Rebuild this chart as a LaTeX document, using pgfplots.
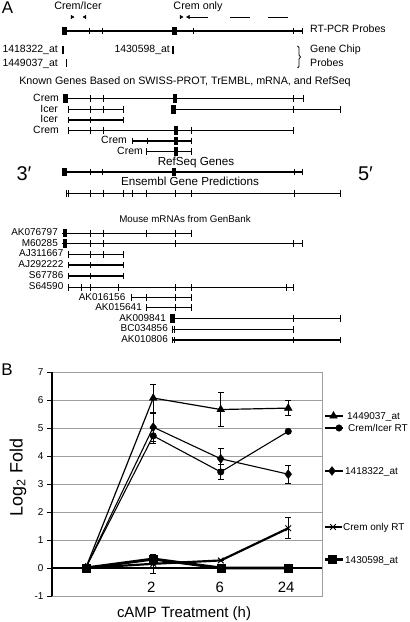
\documentclass[border=0pt]{standalone}
\usepackage{fontspec}
\setmainfont{Liberation Sans}
\usepackage{pgfplots}
\pgfplotsset{compat=1.18}
\pgfplotsset{
  gl/.style={black, line width=1.1pt, mark=none},
  gt/.style={black, only marks, mark=|, mark size=3.5pt, mark options={line width=1pt}},
  gb/.style={black, only marks, mark=|, mark size=4.2pt, mark options={line width=5pt}},
  pl/.style={black, line width=0.8pt, mark=none},
  eb/.style={error bars/.cd, y dir=both, y explicit, error bar style={line width=0.9pt},
    error mark options={rotate=90, mark size=3pt, line width=0.9pt}},
}
\tikzset{
  lab/.style={font=\fontsize{10.5}{12}\selectfont, inner sep=0pt, anchor=mid east},
  mlab/.style={font=\fontsize{10}{12}\selectfont, inner sep=0pt, anchor=mid east},
  ttl/.style={font=\fontsize{10.8}{12}\selectfont, inner sep=0pt, anchor=mid},
  rlab/.style={font=\fontsize{10.6}{12}\selectfont, inner sep=0pt, anchor=mid west},
  leg/.style={font=\fontsize{10}{12}\selectfont, inner sep=0pt, anchor=mid west},
}
\begin{document}
\begin{tikzpicture}[x=1bp,y=1bp]
% ---------------- Panel B chart ----------------
\begin{axis}[at={(52,26)}, anchor=south west, width=270bp, height=224bp, scale only axis,
  xmin=-0.5, xmax=3.5, ymin=-1, ymax=7,
  xtick=\empty, ytick={-1,0,1,2,3,4,5,6,7}, yticklabels={-1,0,1,2,3,4,5,6,7},
  ytick pos=left, tick align=outside, major tick length=5bp,
  yticklabel style={font=\fontsize{10}{12}\selectfont},
  y tick style={black, line width=0.8pt},
  ymajorgrids, grid style={draw=black!38, line width=0.8pt},
  axis line style={draw=black!38, line width=0.8pt},
  clip=false]
\coordinate (Bll) at (rel axis cs:0,0);
\draw[black, line width=1.1pt] (axis cs:-0.5,-1) -- (axis cs:-0.5,7);
\draw[black, line width=1.3pt] (axis cs:-0.5,0) -- (axis cs:3.5,0);
% 1449037_at
\addplot[black, line width=1.2pt, mark=triangle*, mark size=4.5pt, mark options={line width=0.4pt}, eb]
  coordinates {(0,0) +- (0,0) (1,6.07) +- (0,0.5) (2,5.66) +- (0,0.6) (3,5.71) +- (0,0.27)};
% 1418322_at
\addplot[black, line width=1.1pt, mark=diamond*, mark size=4.5pt, mark options={line width=0.4pt}, eb]
  coordinates {(0,0) +- (0,0) (1,5.03) +- (0,0.5) (2,3.9) +- (0,0.38) (3,3.35) +- (0,0.33)};
% Crem/Icer RT
\addplot[black, line width=1.1pt, mark=*, mark size=3.3pt, mark options={line width=0.4pt}, eb]
  coordinates {(0,0) +- (0,0) (1,4.72) +- (0,0.27) (2,3.43) +- (0,0.27) (3,4.88) +- (0,0)};
% Crem only RT
\addplot[black, line width=2.2pt, mark=x, mark size=4pt, mark options={line width=1pt}, eb]
  coordinates {(0,0) +- (0,0) (1,0.15) +- (0,0.35) (2,0.27) +- (0,0) (3,1.42) +- (0,0.38)};
% 1430598_at
\addplot[black, line width=3pt, mark=square*, mark size=4pt, mark options={line width=0.4pt}]
  coordinates {(0,0) (1,0.32) (2,0) (3,0)};
\end{axis}
% ---------------- Panel A and annotations (pixel coordinates, y from top) ----------------
\begin{axis}[at={(Bll)}, anchor=south west, xshift=-52bp, yshift=-26bp,
  width=409bp, height=622bp, scale only axis,
  xmin=0, xmax=409, ymin=0, ymax=622, y dir=reverse, hide axis, clip=false]
\node[font=\fontsize{17}{18}\selectfont, inner sep=0pt, anchor=mid] at (axis cs:7.5,11) {A};
\node[ttl] at (axis cs:78,7) {Crem/Icer};
\node[ttl] at (axis cs:198,7) {Crem only};
% primers
\addplot[black, only marks, mark=triangle*, mark size=2pt, mark options={rotate=-90}] coordinates {(72,17)(181,17)};
\addplot[black, only marks, mark=triangle*, mark size=2pt, mark options={rotate=90}] coordinates {(85,17)(188.5,17)};
\addplot[pl] coordinates {(189,17)(208,17)};
\addplot[pl] coordinates {(230,17)(250,17)};
\addplot[pl] coordinates {(268,17)(288,17)};
% RT-PCR probes row
\addplot[gl] coordinates {(62,31)(302,31)};
\addplot[gt] coordinates {(89,31)(102,31)(193,31)(293,31)(302,31)};
\addplot[gb] coordinates {(64.5,31)(174.5,31)};
\node[rlab] at (axis cs:310,30) {RT-PCR Probes};
% gene chip probes
\node[lab] at (axis cs:58,50) {1418322\_at};
\node[lab] at (axis cs:170,50) {1430598\_at};
\node[lab] at (axis cs:58,63.5) {1449037\_at};
\addplot[black, only marks, mark=|, mark size=4.2pt, mark options={line width=2.4pt}] coordinates {(62.8,49.8)(173,49.8)};
\addplot[black, only marks, mark=|, mark size=4.2pt, mark options={line width=1.3pt}] coordinates {(66.3,63.2)};
\addplot[black, line width=0.8pt] coordinates {(297.5,46)(299,47.5)(299,55)(300.5,57)(299,59)(299,66.5)(297.5,68)};
\node[rlab] at (axis cs:310,50) {Gene Chip};
\node[rlab] at (axis cs:310,63.5) {Probes};
% known genes
\node[ttl] at (axis cs:185,82) {Known Genes Based on SWISS-PROT, TrEMBL, mRNA, and RefSeq};
\node[lab] at (axis cs:59,98.5) {Crem};
\addplot[gl] coordinates {(65,98.5)(303,98.5)};
\addplot[gt] coordinates {(90,98.5)(103,98.5)(293,98.5)(303,98.5)};
\addplot[gb] coordinates {(65.5,98.5)(175,98.5)};
\node[lab] at (axis cs:58,109.5) {Icer};
\addplot[gl] coordinates {(68,109.5)(123,109.5)};
\addplot[gl] coordinates {(171,109.5)(340,109.5)};
\addplot[gt] coordinates {(68,109.5)(90,109.5)(103,109.5)(123,109.5)(293,109.5)(340,109.5)};
\addplot[gb] coordinates {(173.5,109.5)};
\node[lab] at (axis cs:58,120) {Icer};
\addplot[gl] coordinates {(68,120)(123,120)};
\addplot[gt] coordinates {(68,120)(90,120)(123,120)};
\node[lab] at (axis cs:59,130.5) {Crem};
\addplot[gl] coordinates {(68,130.5)(293,130.5)};
\addplot[gt] coordinates {(68,130.5)(90,130.5)(103,130.5)(191,130.5)(293,130.5)};
\addplot[gb] coordinates {(176,130.5)};
\node[lab] at (axis cs:127,141) {Crem};
\addplot[gl] coordinates {(132,141)(191,141)};
\addplot[gt] coordinates {(132,141)(147,141)(191,141)};
\addplot[gb] coordinates {(176,141)};
\node[lab] at (axis cs:143,151.5) {Crem};
\addplot[gl] coordinates {(146,151.5)(191,151.5)};
\addplot[gt] coordinates {(146,151.5)(191,151.5)};
\addplot[gb] coordinates {(176,151.5)};
% RefSeq
\node[font=\fontsize{11.7}{13}\selectfont, inner sep=0pt, anchor=mid] at (axis cs:196,162.7) {RefSeq Genes};
\addplot[gl] coordinates {(62,172)(302,172)};
\addplot[gt] coordinates {(90,172)(102,172)(294,172)(302,172)};
\addplot[gb] coordinates {(64.5,172)(174,172)};
\node[font=\fontsize{20}{22}\selectfont, inner sep=0pt, anchor=mid] at (axis cs:24,177.5) {3′};
\node[font=\fontsize{20}{22}\selectfont, inner sep=0pt, anchor=mid] at (axis cs:365.5,177.5) {5′};
% Ensembl
\node[font=\fontsize{11.7}{13}\selectfont, inner sep=0pt, anchor=mid] at (axis cs:190,183.2) {Ensembl Gene Predictions};
\addplot[gl] coordinates {(66,193.3)(340,193.3)};
\addplot[gt] coordinates {(66,193.3)(68.5,193.3)(90,193.3)(103,193.3)(123,193.3)(132,193.3)(146,193.3)(175,193.3)(191,193.3)(294,193.3)(340,193.3)};
% Mouse mRNAs
\node[font=\fontsize{9.8}{11}\selectfont, inner sep=0pt, anchor=mid] at (axis cs:185,220) {Mouse mRNAs from GenBank};
\node[mlab] at (axis cs:58,233.3) {AK076797};
\addplot[gl] coordinates {(62,233.3)(191,233.3)};
\addplot[gt] coordinates {(90,233.3)(103,233.3)(146,233.3)(175,233.3)(191,233.3)};
\addplot[gb] coordinates {(65,233.3)};
\node[mlab] at (axis cs:58,243.5) {M60285};
\addplot[gl] coordinates {(62,243.5)(302,243.5)};
\addplot[gt] coordinates {(90,243.5)(103,243.5)(175,243.5)(293,243.5)(302,243.5)};
\addplot[gb] coordinates {(65,243.5)};
\node[mlab] at (axis cs:63.5,254.3) {AJ311667};
\addplot[gl] coordinates {(68,254.3)(123,254.3)};
\addplot[gt] coordinates {(68,254.3)(90,254.3)(103,254.3)(123,254.3)};
\node[mlab] at (axis cs:63.5,265) {AJ292222};
\addplot[gl] coordinates {(68,265)(123,265)};
\addplot[gt] coordinates {(68,265)(90,265)(123,265)};
\node[mlab] at (axis cs:63.5,276) {S67786};
\addplot[gl] coordinates {(68,276)(123,276)};
\addplot[gt] coordinates {(68,276)(90,276)(123,276)};
\node[mlab] at (axis cs:63.5,287.3) {S64590};
\addplot[gl] coordinates {(68,287.3)(293,287.3)};
\addplot[gt] coordinates {(68,287.3)(81,287.3)(90,287.3)(118,287.3)(175,287.3)(191,287.3)(286,287.3)(293,287.3)};
\node[mlab] at (axis cs:125.5,297.5) {AK016156};
\addplot[gl] coordinates {(131,297.5)(191,297.5)};
\addplot[gt] coordinates {(131,297.5)(146,297.5)(175,297.5)(191,297.5)};
\node[mlab] at (axis cs:142,307.8) {AK015641};
\addplot[gl] coordinates {(146,307.8)(191,307.8)};
\addplot[gt] coordinates {(146,307.8)(175,307.8)(191,307.8)};
\node[mlab] at (axis cs:166,318.4) {AK009841};
\addplot[gl] coordinates {(170,318.4)(340,318.4)};
\addplot[gt] coordinates {(293,318.4)(340,318.4)};
\addplot[gb] coordinates {(172.5,318.4)};
\node[mlab] at (axis cs:168,329.2) {BC034856};
\addplot[gl] coordinates {(172,329.2)(293,329.2)};
\addplot[gt] coordinates {(172,329.2)(174.5,329.2)(293,329.2)};
\node[mlab] at (axis cs:168,340) {AK010806};
\addplot[gl] coordinates {(172,340)(340,340)};
\addplot[gt] coordinates {(172,340)(174.5,340)(293,340)(340,340)};
% ---- Panel B labels and legend ----
\node[font=\fontsize{17}{18}\selectfont, inner sep=0pt, anchor=mid] at (axis cs:7,373) {B};
\node[font=\fontsize{18}{20}\selectfont, rotate=90, anchor=center] at (axis cs:18,477.5) {Log\textsubscript{2} Fold};
\node[font=\fontsize{15}{17}\selectfont, inner sep=0pt, anchor=mid] at (axis cs:184,614.8) {cAMP Treatment (h)};
\node[font=\fontsize{15}{17}\selectfont, inner sep=0pt, anchor=mid] at (axis cs:151.3,589.7) {2};
\node[font=\fontsize{15}{17}\selectfont, inner sep=0pt, anchor=mid] at (axis cs:219.7,589.7) {6};
\node[font=\fontsize{15}{17}\selectfont, inner sep=0pt, anchor=mid] at (axis cs:286.2,589.7) {24};
\addplot[black, line width=1.2pt, mark=triangle*, mark size=4.5pt, mark indices={2}, mark options={line width=0.4pt}] coordinates {(325,416)(333.5,416)(343,416)};
\node[leg] at (axis cs:347,417) {1449037\_at};
\addplot[black, line width=2pt, mark=*, mark size=3.3pt, mark indices={2}, mark options={line width=0.4pt}] coordinates {(325,428)(339,428)(343,428)};
\node[leg] at (axis cs:348,429) {Crem/Icer RT};
\addplot[black, line width=2pt, mark=diamond*, mark size=4.5pt, mark indices={2}, mark options={line width=0.4pt}] coordinates {(325,471)(332,471)(343,471)};
\node[leg] at (axis cs:345,472) {1418322\_at};
\addplot[black, line width=1.5pt, mark=x, mark size=4pt, mark indices={2}, mark options={line width=1pt}] coordinates {(325,527)(333,527)(342,527)};
\node[leg] at (axis cs:343,528) {Crem only RT};
\addplot[black, line width=2.5pt, mark=square*, mark size=4pt, mark indices={2}, mark options={line width=0.4pt}] coordinates {(325,559.5)(332,559.5)(343,559.5)};
\node[leg] at (axis cs:345,560.5) {1430598\_at};
\end{axis}
\pgfresetboundingbox
\path[use as bounding box] (Bll) ++(-52,-26) rectangle ++(409,622);
\end{tikzpicture}
\end{document}
